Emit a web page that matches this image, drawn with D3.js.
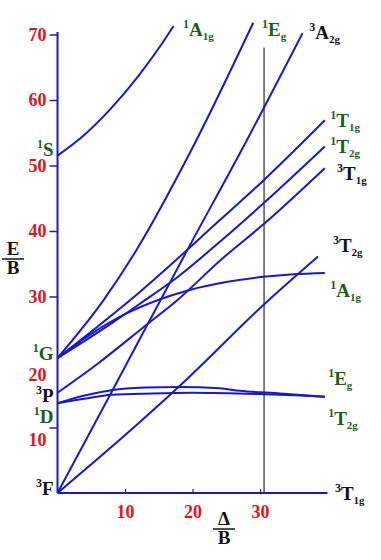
<!DOCTYPE html>
<html>
<head>
<meta charset="utf-8">
<script src="https://cdn.jsdelivr.net/npm/d3@7"></script>
<style>
  body { margin: 0; background: #fff; }
  svg { display: block; }
</style>
</head>
<body>
<svg id="chart"></svg>
<script>
// Tanabe-Sugano diagram, d2 ion. Each curve: [Delta/B, E/B] points
var s1_A1g  = [[0,51.5],[4,54.7],[8,58.8],[12,63.7],[15,67.9],[17.2,71.3]];
var g1_Eg   = [[0,20.6],[6.8,29.4],[11.7,37.1],[19.6,51.9],[29,71.8]];
var f3_A2g  = [[0,0],[7.8,15],[19.6,37.8],[27.3,52.4],[36.3,70.2]];
var g1_T1g  = [[0,20.6],[12.2,30.7],[24.1,41.7],[30.6,47.8],[39.6,56.9]];
var g1_T2g  = [[0,20.6],[8,25.9],[12.2,28.9],[17.7,32.9],[24.1,38.4],[30.6,44.3],[39.6,52.9]];
var p3_T1g  = [[0,15.3],[5.9,19.7],[13.2,25.7],[17.7,29.4],[24.1,35.5],[30.6,41.1],[39.6,49.6]];
var f3_T2g  = [[0,0],[12.5,11.1],[19.6,17.8],[30.5,28.7],[38.6,36.1]];
var g1_A1g  = [[0,20.6],[5,24.3],[10,27.3],[15,29.5],[19.6,31.0],[25,32.2],[30.5,33.0],[35,33.4],[39.6,33.6]];
var d1_Eg   = [[0,13.7],[4,14.9],[8,15.7],[13,16.1],[18,16.2],[24,16.0],[27,15.6],[33,15.2],[39.6,14.7]];
var d1_T2g  = [[0,13.7],[4,14.4],[8,15.0],[14,15.2],[20,15.3],[30,15.1],[39.6,14.7]];
var f3_T1g  = [[0,0],[40,0]];

var curves = [s1_A1g, g1_Eg, f3_A2g, g1_T1g, g1_T2g, p3_T1g, f3_T2g, g1_A1g, d1_Eg, d1_T2g, f3_T1g];

var yTicks = [10, 20, 30, 40, 50, 60, 70];
var xTicks = [10, 20, 30];
var markerDelta = 30.6;   // vertical reference line

// free-ion terms on the left: [spin, letter, E anchor]
var freeIonTerms = [["1","S",51.5],["1","G",20.3],["3","P",13.9],["1","D",10.7],["3","F",-0.3]];
// state labels: [spin, letter, subscript, Delta anchor, E anchor]
var stateLabels = [
  ["1","A","1g",18.6,69.8],
  ["1","E","g",30.3,69.7],
  ["3","A","2g",37.3,69.3],
  ["1","T","1g",40.4,55.9],
  ["1","T","2g",40.4,51.9],
  ["3","T","1g",41.4,47.8],
  ["3","T","2g",40.8,36.8],
  ["1","A","1g",40.4,29.9],
  ["1","E","g",40.1,16.5],
  ["1","T","2g",40.1,10.4],
  ["3","T","1g",41.1,-1.1]
];

var blue = "#1818d4", red = "#e2141a", green = "#1d5e1d", black = "#141414";
var serif = "'Liberation Serif', 'Times New Roman', serif";

var width = 381, height = 560;
var svg = d3.select("#chart").attr("width", width).attr("height", height);

var x = d3.scaleLinear().domain([0, 40]).range([57.5, 327.5]);
var y = d3.scaleLinear().domain([0, 70]).range([493, 34.5]);

// vertical reference line
svg.append("line")
  .attr("x1", x(markerDelta)).attr("x2", x(markerDelta))
  .attr("y1", y(0)).attr("y2", y(68))
  .attr("stroke", "#000").attr("stroke-width", 1);

// left axis
var yAxis = svg.append("g")
  .attr("transform", "translate(" + x(0) + ",0)")
  .call(d3.axisLeft(y).tickValues(yTicks).tickSize(8).tickPadding(3));
yAxis.select(".domain").remove();
yAxis.selectAll(".tick line").attr("stroke", blue).attr("stroke-width", 1.5)
  .filter(function(d) { return d === 20; }).remove();
yAxis.selectAll(".tick text")
  .attr("fill", red).style("font", "bold 18px " + serif)
  .attr("dy", function(d) { return d <= 20 ? "1.0em" : "0.32em"; });

svg.append("line")
  .attr("x1", x(0)).attr("x2", x(0))
  .attr("y1", y(0)).attr("y2", y(70.4))
  .attr("stroke", blue).attr("stroke-width", 2);

// bottom axis, short ticks inside
var xAxis = svg.append("g")
  .attr("transform", "translate(0," + y(0) + ")")
  .call(d3.axisBottom(x).tickValues(xTicks).tickSize(-4).tickPadding(12));
xAxis.select(".domain").remove();
xAxis.selectAll(".tick line").attr("stroke", blue).attr("stroke-width", 1.2);
xAxis.selectAll(".tick text")
  .attr("fill", red).style("font", "bold 18px " + serif);

// energy levels
var line = d3.line()
  .x(function(d) { return x(d[0]); })
  .y(function(d) { return y(d[1]); })
  .curve(d3.curveMonotoneX);

svg.selectAll("path.level")
  .data(curves)
  .enter()
  .append("path")
  .attr("class", "level")
  .attr("d", line)
  .attr("fill", "none")
  .attr("stroke", blue)
  .attr("stroke-width", 2);

// term symbol helper
function term(px, py, spin, letter, sub, anchor) {
  var t = svg.append("text")
    .attr("x", px).attr("y", py)
    .attr("text-anchor", anchor || "start")
    .attr("fill", spin === "3" ? black : green)
    .style("font-family", serif).style("font-weight", "bold");
  t.append("tspan").attr("font-size", 12).attr("dy", -8).text(spin);
  t.append("tspan").attr("font-size", 19).attr("dy", 8).text(letter);
  if (sub) t.append("tspan").attr("font-size", 11).attr("dy", 4).text(sub);
}

freeIonTerms.forEach(function(d) {
  term(x(0) - 4, y(d[2]), d[0], d[1], null, "end");
});
stateLabels.forEach(function(d) {
  term(x(d[3]), y(d[4]), d[0], d[1], d[2]);
});

// axis titles as fractions
function fraction(cx, top, num) {
  var g = svg.append("g").style("font", "bold 19px " + serif).attr("fill", black);
  g.append("text").attr("x", cx).attr("y", top + 14).attr("text-anchor", "middle").text(num);
  g.append("line").attr("x1", cx - 11).attr("x2", cx + 11)
    .attr("y1", top + 18).attr("y2", top + 18)
    .attr("stroke", black).attr("stroke-width", 1.5);
  g.append("text").attr("x", cx).attr("y", top + 33).attr("text-anchor", "middle").text("B");
}
fraction(13, 241, "E");
fraction(224, 511, "\u0394");
</script>
</body>
</html>
